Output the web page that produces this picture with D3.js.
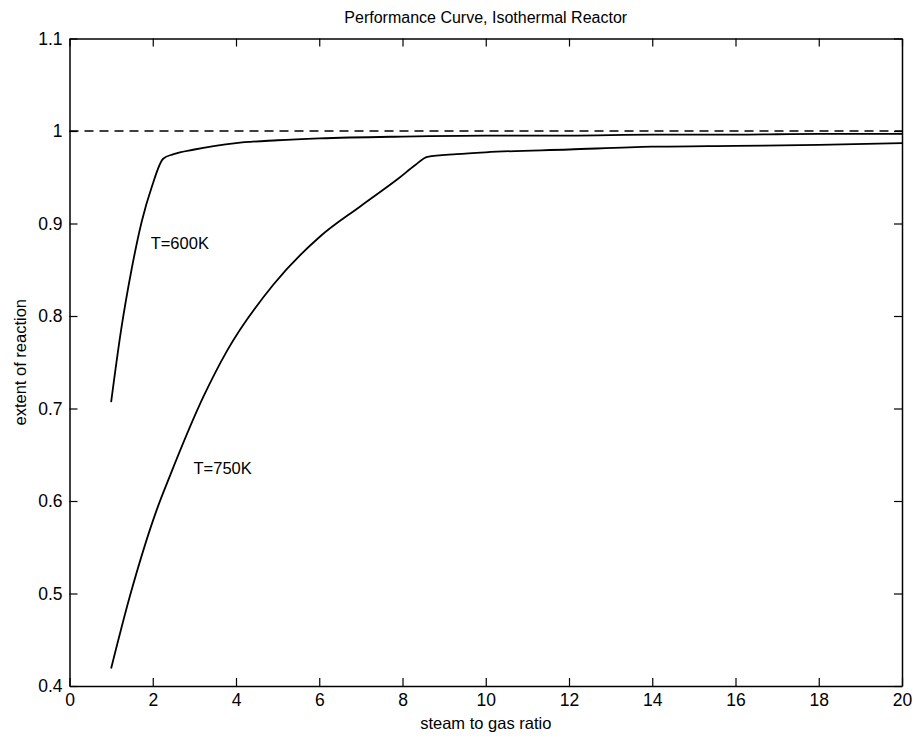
<!DOCTYPE html>
<html>
<head>
<meta charset="utf-8">
<script src="https://cdn.jsdelivr.net/npm/d3@7"></script>
<style>
  body { margin: 0; background: #fff; }
  text { font-family: "Liberation Sans", Arial, sans-serif; fill: #000; }
</style>
</head>
<body>
<div id="chart"></div>
<script>
// values
var x600 = [1.0, 1.24, 1.49, 1.74, 1.98, 2.25, 2.5, 3.0, 3.5, 4, 5, 6, 8, 10, 12, 14, 16, 18, 20];
var y600 = [0.707, 0.785, 0.850, 0.903, 0.940, 0.970, 0.975, 0.980, 0.984, 0.987, 0.990, 0.992, 0.994, 0.995, 0.995, 0.996, 0.996, 0.997, 0.997];
var x750 = [1.0, 1.45, 2.10, 2.42, 3.22, 3.78, 4.90, 6.02, 7.0, 7.94, 8.3, 8.6, 9.3, 10, 12, 14, 16, 18, 20];
var y750 = [0.419, 0.497, 0.591, 0.628, 0.713, 0.762, 0.834, 0.886, 0.919, 0.950, 0.963, 0.972, 0.975, 0.977, 0.980, 0.983, 0.984, 0.985, 0.987];
var xTicks = [0, 2, 4, 6, 8, 10, 12, 14, 16, 18, 20];
var yTicks = [0.4, 0.5, 0.6, 0.7, 0.8, 0.9, 1, 1.1];
var labels = [{x: 1.95, y: 0.872, t: "T=600K"}, {x: 2.98, y: 0.629, t: "T=750K"}];

var W = 917, H = 738;
var margin = {top: 38.5, right: 15, bottom: 52, left: 69.5};
var width = W - margin.left - margin.right;
var height = H - margin.top - margin.bottom;

var svg = d3.select("#chart").append("svg").attr("width", W).attr("height", H);
var g = svg.append("g").attr("transform", "translate(" + margin.left + "," + margin.top + ")");

var x = d3.scaleLinear().domain([0, 20]).range([0, width]);
var y = d3.scaleLinear().domain([0.4, 1.1]).range([height, 0]);

// axes, ticks inward
var fmtY = function(d) { return d === 1 ? "1" : d3.format(".1f")(d); };
var ax = g.append("g").attr("transform", "translate(0," + height + ")")
    .call(d3.axisBottom(x).tickValues(xTicks).tickSizeInner(-8).tickSizeOuter(0).tickPadding(10));
var ay = g.append("g")
    .call(d3.axisLeft(y).tickValues(yTicks).tickFormat(fmtY).tickSizeInner(-8).tickSizeOuter(0).tickPadding(7));
var axTop = g.append("g")
    .call(d3.axisTop(x).tickValues(xTicks).tickSizeInner(-8).tickSizeOuter(0).tickFormat(""));
var ayR = g.append("g").attr("transform", "translate(" + width + ",0)")
    .call(d3.axisRight(y).tickValues(yTicks).tickSizeInner(-8).tickSizeOuter(0).tickFormat(""));
[ax, ay, axTop, ayR].forEach(function(a) {
  a.selectAll("path.domain").attr("stroke", "#000").attr("stroke-width", 1.5);
  a.selectAll(".tick line").attr("stroke", "#000").attr("stroke-width", 1.2);
  a.selectAll("text").style("font-size", "17.5px").attr("fill", "#000");
});
ax.selectAll("text").attr("dy", "0.55em");

// reference line at 1
g.append("line")
  .attr("x1", x(0)).attr("x2", x(20)).attr("y1", y(1)).attr("y2", y(1))
  .attr("stroke", "#000").attr("stroke-width", 1.3).attr("stroke-dasharray", "9,6");

var line = d3.line().curve(d3.curveMonotoneX)
  .x(function(d) { return x(d[0]); }).y(function(d) { return y(d[1]); });
[[x600, y600], [x750, y750]].forEach(function(s) {
  g.append("path")
    .datum(d3.zip(s[0], s[1]))
    .attr("fill", "none").attr("stroke", "#000").attr("stroke-width", 1.8)
    .attr("stroke-linejoin", "round")
    .attr("d", line);
});

labels.forEach(function(l) {
  g.append("text").attr("x", x(l.x)).attr("y", y(l.y))
    .style("font-size", "16.5px").text(l.t);
});

// titles
svg.append("text").attr("x", margin.left + width / 2).attr("y", 23)
  .attr("text-anchor", "middle").style("font-size", "16px")
  .text("Performance Curve, Isothermal Reactor");
svg.append("text").attr("x", margin.left + width / 2).attr("y", 729)
  .attr("text-anchor", "middle").style("font-size", "16.5px")
  .text("steam to gas ratio");
svg.append("text").attr("transform", "translate(26," + (margin.top + height / 2) + ") rotate(-90)")
  .attr("text-anchor", "middle").style("font-size", "16.5px")
  .text("extent of reaction");
</script>
</body>
</html>
